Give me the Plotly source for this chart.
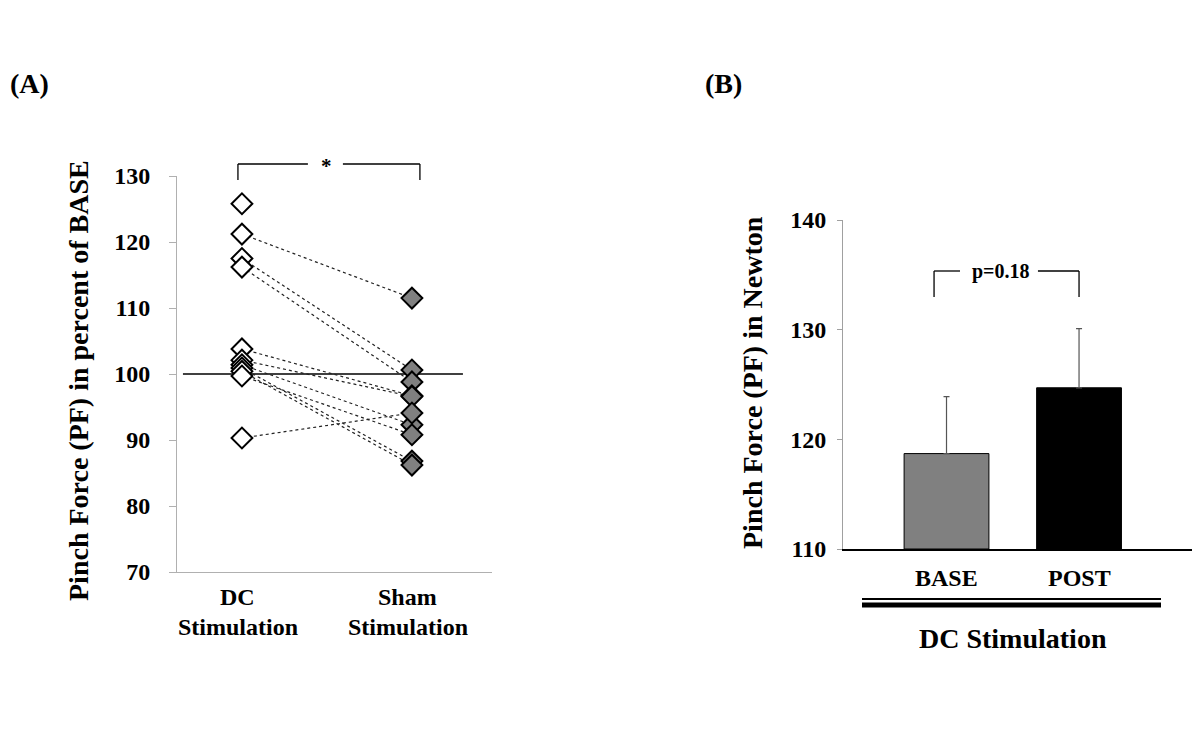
import plotly.graph_objects as go

# ---------------- data ----------------
# Panel A: individual subjects, percent of BASE
dc_values = [125.8, 121.2, 117.5, 116.2, 103.8, 102.1, 101.4, 100.9, 100.4, 99.7, 90.3]
sham_values = [None, 111.5, 100.6, 98.8, 96.7, 96.6, 92.3, 86.8, 86.2, 90.8, 94.1]
a_categories = ["DC", "Sham"]
a_cat_lines = [["DC", "Stimulation"], ["Sham", "Stimulation"]]
a_yticks = [70, 80, 90, 100, 110, 120, 130]

# Panel B: mean pinch force (Newton) with SD
b_categories = ["BASE", "POST"]
b_means = [118.7, 124.7]
b_errors = [5.2, 5.4]
b_colors = ["#808080", "#000000"]
b_yticks = [110, 120, 130, 140]

FONT = "Liberation Serif, Times New Roman, serif"
OFF = 8                      # page body margin
W, H = 1200 - OFF, 731 - OFF

def px_x(p):
    return min(1.0, max(0.0, (p - OFF) / W))

def px_y(p):
    return min(1.0, max(0.0, 1 - (p - OFF) / H))

fig = go.Figure()

# connecting dotted lines
lx, ly = [], []
for d, s in zip(dc_values, sham_values):
    if s is None:
        continue
    lx += [0, 1, None]
    ly += [d, s, None]
fig.add_trace(go.Scatter(x=lx, y=ly, mode="lines", xaxis="x", yaxis="y",
                         line=dict(color="#222222", width=1.2, dash="dot"),
                         hoverinfo="skip", showlegend=False))

# reference line at 100
fig.add_shape(type="line", xref="x", yref="y", x0=-0.347, x1=1.3, y0=100, y1=100,
              line=dict(color="black", width=1.6), layer="below")

fig.add_trace(go.Scatter(x=[0] * len(dc_values), y=dc_values, mode="markers",
                         xaxis="x", yaxis="y",
                         marker=dict(symbol="diamond", size=16, color="white",
                                     line=dict(color="black", width=2)),
                         showlegend=False, cliponaxis=False))
sham_y = [v for v in sham_values if v is not None]
fig.add_trace(go.Scatter(x=[1] * len(sham_y), y=sham_y, mode="markers",
                         xaxis="x", yaxis="y",
                         marker=dict(symbol="diamond", size=16, color="#808080",
                                     line=dict(color="black", width=2)),
                         showlegend=False, cliponaxis=False))

# Panel B bars
fig.add_trace(go.Bar(x=[0, 1], y=[m - 110 for m in b_means], base=110,
                     xaxis="x2", yaxis="y2", width=0.64,
                     marker=dict(color=b_colors, line=dict(color="black", width=1)),
                     error_y=dict(type="data", array=b_errors, arrayminus=[0, 0],
                                  symmetric=False, color="#555555", thickness=1.2, width=3),
                     showlegend=False))

layout = dict(
    width=W, height=H,
    paper_bgcolor="white", plot_bgcolor="white",
    margin=dict(l=0, r=0, t=0, b=0, pad=0, autoexpand=False),
    showlegend=False,
    font=dict(family=FONT, color="black"),
    xaxis=dict(domain=[px_x(177), px_x(492)], range=[-0.382, 1.471],
               showgrid=False, zeroline=False, showticklabels=False, automargin=False,
               showline=True, linecolor="#b0b0b0", linewidth=1, anchor="y"),
    yaxis=dict(domain=[px_y(572), px_y(176)], range=[70, 130],
               tickvals=a_yticks, showgrid=False, zeroline=False, automargin=False,
               showline=True, linecolor="#b0b0b0", linewidth=1,
               ticks="outside", ticklen=7, tickcolor="#b0b0b0",
               ticklabelstandoff=14,
               tickfont=dict(family=FONT, size=24, color="black", weight="bold"),
               anchor="x"),
    xaxis2=dict(domain=[px_x(843), px_x(1195)], range=[-0.781, 1.875],
                showgrid=False, zeroline=False, showticklabels=False, automargin=False,
                showline=True, linecolor="black", linewidth=2, anchor="y2"),
    yaxis2=dict(domain=[px_y(549), px_y(220)], range=[110, 140],
                tickvals=b_yticks, showgrid=False, zeroline=False, automargin=False,
                showline=True, linecolor="#a0a0a0", linewidth=1,
                ticks="outside", ticklen=5, tickcolor="#a0a0a0",
                ticklabelstandoff=6,
                tickfont=dict(family=FONT, size=24, color="black", weight="bold"),
                anchor="x2"),
)
fig.update_layout(**layout)

bold = lambda t: "<b>" + t + "</b>"
ann = []
# panel letters
ann.append(dict(text=bold("(A)"), x=px_x(8), y=px_y(84), xref="paper", yref="paper",
                xanchor="left", yanchor="middle", showarrow=False, font=dict(size=28)))
ann.append(dict(text=bold("(B)"), x=px_x(703), y=px_y(84), xref="paper", yref="paper",
                xanchor="left", yanchor="middle", showarrow=False, font=dict(size=28)))
# y titles
ann.append(dict(text=bold("Pinch Force (PF) in percent of BASE"), x=px_x(78), y=px_y(381),
                xref="paper", yref="paper", textangle=-90, showarrow=False,
                xanchor="center", yanchor="middle", font=dict(size=28)))
ann.append(dict(text=bold("Pinch Force (PF) in Newton"), x=px_x(752), y=px_y(383),
                xref="paper", yref="paper", textangle=-90, showarrow=False,
                xanchor="center", yanchor="middle", font=dict(size=28)))
# panel A category labels
for i, lines in enumerate(a_cat_lines):
    for j, t in enumerate(lines):
        ann.append(dict(text=bold(t), x=i - 0.025, y=px_y(597 + 30 * j), xref="x", yref="paper",
                        showarrow=False, xanchor="center", yanchor="middle",
                        font=dict(size=24)))
# panel B category labels
for i, t in enumerate(b_categories):
    ann.append(dict(text=bold(t), x=i, y=px_y(578), xref="x2", yref="paper",
                    showarrow=False, xanchor="center", yanchor="middle", font=dict(size=24)))
ann.append(dict(text=bold("DC Stimulation"), x=px_x(1013), y=px_y(638), xref="paper", yref="paper",
                showarrow=False, xanchor="center", yanchor="middle", font=dict(size=28)))
# significance labels
ann.append(dict(text=bold("*"), x=0.5, y=px_y(166), xref="x", yref="paper",
                showarrow=False, xanchor="center", yanchor="middle", font=dict(size=21)))
ann.append(dict(text=bold("p=0.18"), x=0.41, y=px_y(271), xref="x2", yref="paper",
                showarrow=False, xanchor="center", yanchor="middle", font=dict(size=20)))
fig.update_layout(annotations=ann)

shapes = []
lk = dict(color="black", width=1.3)
# bracket A
shapes += [
    dict(type="line", xref="x", yref="paper", x0=-0.0235, x1=-0.0235, y0=px_y(180), y1=px_y(164), line=lk),
    dict(type="line", xref="x", yref="paper", x0=1.047, x1=1.047, y0=px_y(180), y1=px_y(164), line=lk),
    dict(type="line", xref="x", yref="paper", x0=-0.0235, x1=0.388, y0=px_y(164), y1=px_y(164), line=lk),
    dict(type="line", xref="x", yref="paper", x0=0.594, x1=1.047, y0=px_y(164), y1=px_y(164), line=lk),
]
# bracket B
shapes += [
    dict(type="line", xref="x2", yref="paper", x0=-0.094, x1=-0.094, y0=px_y(297), y1=px_y(271), line=lk),
    dict(type="line", xref="x2", yref="paper", x0=1.0, x1=1.0, y0=px_y(297), y1=px_y(271), line=lk),
    dict(type="line", xref="x2", yref="paper", x0=-0.094, x1=0.102, y0=px_y(271), y1=px_y(271), line=lk),
    dict(type="line", xref="x2", yref="paper", x0=0.69, x1=1.0, y0=px_y(271), y1=px_y(271), line=lk),
]
# double line under panel B
shapes += [
    dict(type="line", xref="paper", yref="paper", x0=px_x(862), x1=px_x(1161), y0=px_y(599), y1=px_y(599),
         line=dict(color="black", width=2)),
    dict(type="line", xref="paper", yref="paper", x0=px_x(862), x1=px_x(1161), y0=px_y(605), y1=px_y(605),
         line=dict(color="black", width=5)),
]
fig.update_layout(shapes=list(fig.layout.shapes) + shapes)

fig.write_html("out.html")
